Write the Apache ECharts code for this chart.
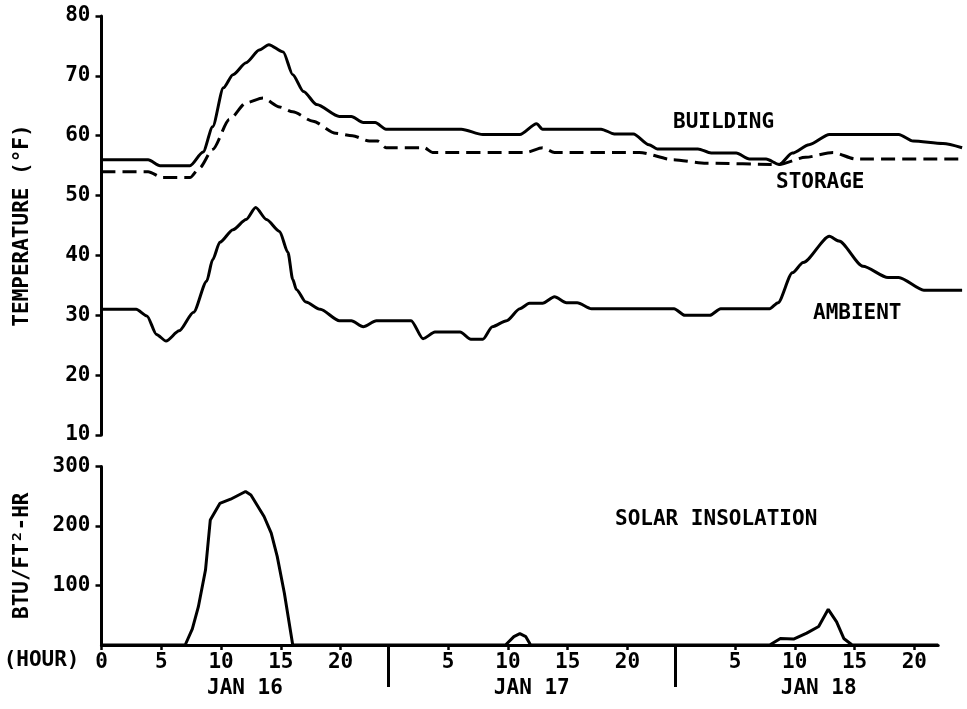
<!DOCTYPE html>
<html>
<head>
<meta charset="utf-8">
<script src="https://cdn.jsdelivr.net/npm/echarts@6/dist/echarts.min.js"></script>
<style>
  html, body { margin: 0; padding: 0; background: #fff; }
  #main { width: 967px; height: 709px; }
</style>
</head>
<body>
<div id="main"></div>
<script>
// hours counted from Jan 16 00:00, temperatures in deg F
var building = [[0,56],[3.9,56],[4.9,55],[7.4,55],[8.5,57.3],[9.3,61.5],[10.2,68],[11,70.2],[12.1,72.2],[13.2,74.3],[14,75.2],[15.2,74],[16,70.2],[16.9,67.4],[18,65.2],[19.9,63.2],[20.9,63.2],[21.9,62.2],[22.9,62.2],[23.8,61.1],[30.1,61.1],[31.9,60.2],[35,60.2],[36.4,62],[36.9,61.1],[41.8,61.1],[42.9,60.3],[44.5,60.3],[45.8,58.5],[46.5,57.8],[49.9,57.8],[51,57.1],[53.1,57.1],[54.2,56.1],[55.6,56.1],[56.7,55.2],[57.8,57.1],[59.2,58.5],[60.9,60.2],[66.7,60.2],[67.9,59.1],[70.4,58.7],[72,58]]
var storage = [[0,54],[3.9,54],[5.1,53],[7.4,53],[8.2,54.6],[9.3,57.7],[10.7,62.7],[12.1,65.5],[13.5,66.3],[14.9,64.8],[16,64],[17.7,62.4],[19.6,60.4],[21,60],[22.4,59.1],[23.1,59.1],[23.8,58],[27,58],[27.7,57.2],[35.5,57.2],[36.9,58],[37.9,57.2],[45,57.2],[47.8,56],[50.6,55.4],[56.7,55.2],[58.9,56.4],[61.2,57.2],[63.1,56.1],[72,56.1]]
var ambient = [[0,31],[2.9,31],[3.8,29.9],[4.6,26.8],[5.4,25.7],[6.5,27.4],[7.7,30.5],[8.8,35.7],[9.3,39.3],[9.9,42.2],[11,44.3],[12.1,46],[12.9,48],[13.8,46],[14.9,44],[15.6,40.5],[16,36],[16.3,34.3],[17.1,32.2],[18.3,31],[19.9,29.1],[20.9,29.1],[21.9,28.1],[23,29.1],[25.9,29.1],[26.9,26.1],[27.9,27.2],[30,27.2],[30.9,26],[31.9,26],[32.7,28.1],[33.9,29.1],[35,31.1],[35.8,32],[36.9,32],[37.9,33.1],[38.9,32.1],[39.8,32.1],[41,31.1],[47.9,31.1],[48.8,30],[50.9,30],[51.8,31.1],[55.9,31.1],[56.6,32.1],[57.8,37.1],[58.7,38.8],[60.9,43.2],[61.7,42.4],[63.7,38.2],[65.8,36.3],[66.7,36.3],[68.8,34.2],[72,34.2]]
// BTU/ft2-hr
var solar = [[0,0],[7,0],[7.6,27],[8.1,64],[8.7,126],[9.1,210],[9.9,238],[10.8,245],[12.05,258],[12.5,252],[13.6,216],[14.2,188],[14.7,149],[15.3,87],[16,0],[33.8,0],[34.5,14],[35,19],[35.5,14],[35.9,0],[55.9,0],[56.8,11],[57.9,10],[59,20],[60,31],[60.8,60],[61.5,39],[62.1,11],[62.8,0],[70,0]]

var hourTicks = [0,5,10,15,20,29,34,39,44,53,58,63,68]
var dayBreaks = [24,48]
var dayMidpoints = [12,36,60]
var dayNames = ['JAN 16','JAN 17','JAN 18']
var tempTicks = [10,20,30,40,50,60,70,80]
var solarTicks = [100,200,300]

var FONT = '"DejaVu Sans Mono", monospace'
var ink = '#000'
var txt = { color: ink, fontFamily: FONT, fontWeight: 'bold', fontSize: 21 }

var myChart = echarts.init(document.getElementById('main'))

function line(data, xi, yi, dashed, smooth) {
  return {
    type: 'line',
    xAxisIndex: xi,
    yAxisIndex: yi,
    data: data,
    showSymbol: false,
    symbol: 'none',
    smooth: smooth,
    smoothMonotone: 'x',
    lineStyle: { color: ink, width: 3, type: dashed ? [14, 7] : 'solid' },
    z: 3
  }
}

var option = {
  backgroundColor: '#fff',
  animation: false,
  grid: [
    { left: 101.5, top: 16, width: 860.6, height: 419 },
    { left: 101.5, top: 466.5, width: 836.7, height: 178.5 }
  ],
  xAxis: [
    { gridIndex: 0, type: 'value', min: 0, max: 72, show: false },
    {//hour ticks
      gridIndex: 1, type: 'value', min: 0, max: 70, position: 'bottom',
      splitLine: { show: false },
      axisLine: { show: true, lineStyle: { color: ink, width: 3 } },
      axisTick: { show: true, customValues: hourTicks, length: 5, lineStyle: { color: ink, width: 2.5 } },
      axisLabel: Object.assign({ customValues: hourTicks, margin: 7, formatter: function (v) { return String(v % 24) } }, txt),
      name: '(HOUR)',
      nameLocation: 'start',
      nameGap: 22,
      nameTextStyle: Object.assign({ verticalAlign: 'top', lineHeight: 32 }, txt)
    },
    {//day separators
      gridIndex: 1, type: 'value', min: 0, max: 70, position: 'bottom',
      splitLine: { show: false },
      axisLine: { show: false },
      axisTick: { show: true, customValues: dayBreaks, length: 42, lineStyle: { color: ink, width: 3 } },
      axisLabel: { show: false }
    },
    {//day names
      gridIndex: 1, type: 'value', min: 0, max: 70, position: 'bottom',
      splitLine: { show: false },
      axisLine: { show: false },
      axisTick: { show: false },
      axisLabel: Object.assign({ customValues: dayMidpoints, margin: 33, formatter: function (v) { return dayNames[Math.floor(v / 24)] } }, txt)
    }
  ],
  yAxis: [
    {
      gridIndex: 0, type: 'value', min: 10, max: 80, interval: 10,
      splitLine: { show: false },
      axisLine: { show: true, lineStyle: { color: ink, width: 3 } },
      axisTick: { show: true, customValues: tempTicks, length: 6, lineStyle: { color: ink, width: 2.5 } },
      axisLabel: Object.assign({ margin: 11 }, txt),
      name: 'TEMPERATURE (°F)',
      nameLocation: 'middle',
      nameRotate: 90,
      nameGap: 68,
      nameTextStyle: txt
    },
    {
      gridIndex: 1, type: 'value', min: 0, max: 300, interval: 100,
      splitLine: { show: false },
      axisLine: { show: true, lineStyle: { color: ink, width: 3 } },
      axisTick: { show: true, customValues: solarTicks, length: 6, lineStyle: { color: ink, width: 2.5 } },
      axisLabel: Object.assign({ margin: 11, formatter: function (v) { return v === 0 ? '' : String(v) } }, txt),
      name: 'BTU/FT²-HR',
      nameLocation: 'middle',
      nameRotate: 90,
      nameGap: 68,
      nameTextStyle: txt
    }
  ],
  series: [
    line(building, 0, 0, false, 0.25),
    line(storage, 0, 0, true, 0.25),
    line(ambient, 0, 0, false, 0.25),
    line(solar, 1, 1, false, false)
  ],
  graphic: [
    { type: 'text', x: 673, y: 123, style: { text: 'BUILDING', font: 'bold 21px ' + FONT, fill: ink, verticalAlign: 'middle' } },
    { type: 'text', x: 776, y: 183, style: { text: 'STORAGE', font: 'bold 21px ' + FONT, fill: ink, verticalAlign: 'middle' } },
    { type: 'text', x: 813, y: 314, style: { text: 'AMBIENT', font: 'bold 21px ' + FONT, fill: ink, verticalAlign: 'middle' } },
    { type: 'text', x: 615, y: 520, style: { text: 'SOLAR INSOLATION', font: 'bold 21px ' + FONT, fill: ink, verticalAlign: 'middle' } }
  ]
}
myChart.setOption(option)
</script>
</body>
</html>
